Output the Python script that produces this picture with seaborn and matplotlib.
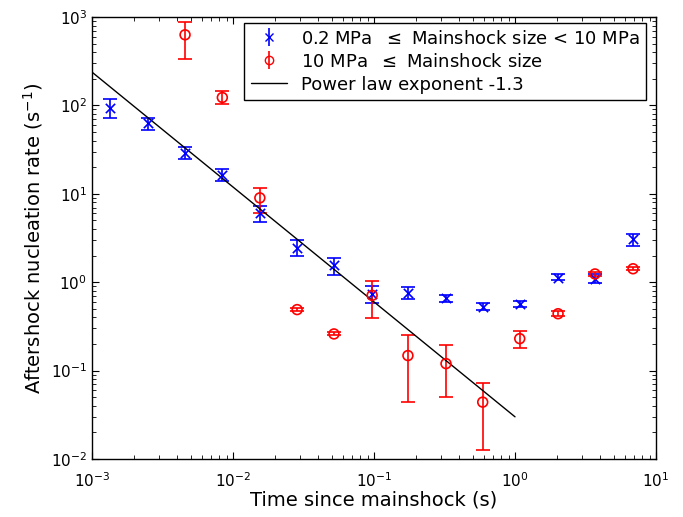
import numpy as np
import pandas as pd
import matplotlib
matplotlib.use("Agg")
import matplotlib.pyplot as plt
import seaborn as sns
from matplotlib.ticker import LogLocator, NullFormatter
from matplotlib.lines import Line2D

# ---- data ----
times = [1.34e-3, 2.49e-3, 4.57e-3, 8.4e-3, 1.55e-2, 2.85e-2, 5.2e-2, 9.7e-2,
         0.174, 0.324, 0.59, 1.08, 2.02, 3.69, 6.87]

blue_rate = [93, 63, 29, 16.3, 6.0, 2.45, 1.55, 0.74, 0.75, 0.66, 0.53, 0.56, 1.12, 1.09, 3.1]
blue_lo = [71.5, 53, 24.5, 14.0, 4.8, 2.0, 1.22, 0.58, 0.65, 0.60, 0.49, 0.52, 1.05, 0.97, 2.6]
blue_hi = [117, 73, 34, 18.9, 7.3, 3.0, 1.9, 0.91, 0.88, 0.72, 0.58, 0.61, 1.23, 1.23, 3.5]

red_times = times[2:]
red_rate = [630, 123, 9.0, 0.49, 0.26, 0.71, 0.148, 0.12, 0.044, 0.23, 0.44, 1.24, 1.42]
red_lo = [337, 104, 6.0, 0.47, 0.25, 0.39, 0.044, 0.050, 0.0125, 0.18, 0.41, 1.17, 1.36]
red_hi = [885, 147, 11.5, 0.51, 0.27, 1.02, 0.253, 0.193, 0.072, 0.28, 0.47, 1.32, 1.50]

power_x = [1e-3, 1.0]
power_amp = 0.030
power_exp = -1.3

labels = ["0.2 MPa  $\\leq$ Mainshock size < 10 MPa",
          "10 MPa  $\\leq$ Mainshock size",
          "Power law exponent -1.3"]

# ---- plot ----
sns.set_style("ticks")
plt.rcParams['font.family'] = ['DejaVu Sans']
plt.rcParams['text.color'] = 'black'
plt.rcParams['axes.labelcolor'] = 'black'

fig = plt.figure(figsize=(6.83, 5.17), dpi=100)
ax = fig.add_axes([0.1347, 0.1122, 0.8258, 0.8548])

blue_df = pd.DataFrame({"t": times, "r": blue_rate})
red_df = pd.DataFrame({"t": red_times, "r": red_rate})

br = np.array(blue_rate)
rr = np.array(red_rate)
ax.errorbar(times, blue_rate,
            yerr=[br - np.array(blue_lo), np.array(blue_hi) - br],
            fmt='none', ecolor='#0000ff', elinewidth=1.2, capsize=5, capthick=1.2)
ax.errorbar(red_times, red_rate,
            yerr=[rr - np.array(red_lo), np.array(red_hi) - rr],
            fmt='none', ecolor='#ff0000', elinewidth=1.2, capsize=5, capthick=1.2)

sns.scatterplot(data=blue_df, x="t", y="r", ax=ax, marker='x', color='#0000ff',
                s=45, linewidth=1.2, zorder=3)
sns.scatterplot(data=red_df, x="t", y="r", ax=ax, marker='o', facecolor='none',
                edgecolor='#ff0000', s=50, linewidth=1.2, zorder=3)

px = np.array(power_x)
line_df = pd.DataFrame({"t": px, "r": power_amp * px ** power_exp})
sns.lineplot(data=line_df, x="t", y="r", ax=ax, color='black', linewidth=1.0)

ax.set_xscale('log')
ax.set_yscale('log')
ax.set_xlim(1e-3, 10)
ax.set_ylim(1e-2, 1e3)

ax.set_xlabel("Time since mainshock (s)", fontsize=14, labelpad=0)
ax.set_ylabel("Aftershock nucleation rate (s$^{-1}$)", fontsize=14)

ax.xaxis.set_major_locator(LogLocator(base=10, numticks=10))
ax.yaxis.set_major_locator(LogLocator(base=10, numticks=10))
ax.xaxis.set_minor_locator(LogLocator(base=10, subs=np.arange(2, 10), numticks=20))
ax.yaxis.set_minor_locator(LogLocator(base=10, subs=np.arange(2, 10), numticks=20))
ax.xaxis.set_minor_formatter(NullFormatter())
ax.yaxis.set_minor_formatter(NullFormatter())
ax.tick_params(which='both', direction='in', top=True, right=True, labelsize=11, colors='black')
ax.tick_params(which='major', length=5, width=0.8)
ax.tick_params(which='minor', length=3, width=0.6)
ax.tick_params(axis='x', which='major', pad=9)
for sp in ax.spines.values():
    sp.set_visible(True)
    sp.set_color('black')
    sp.set_linewidth(1.0)

h1 = ax.errorbar([], [], yerr=[[], []], fmt='x', color='#0000ff', ecolor='#0000ff',
                 capsize=4, markersize=6, elinewidth=1.2, capthick=1.2)
h2 = ax.errorbar([], [], yerr=[[], []], fmt='o', color='#ff0000', ecolor='#ff0000',
                 mfc='none', capsize=4, markersize=6, elinewidth=1.2, capthick=1.2)
h3 = Line2D([], [], color='black', linewidth=1.0)
leg = ax.legend([h1, h2, h3], labels, loc='upper right', fontsize=13,
                frameon=True, fancybox=False, framealpha=1, edgecolor='black',
                bbox_to_anchor=(0.983, 0.986),
                borderaxespad=0.0, handlelength=2.0, labelspacing=0.28,
                borderpad=0.35, handletextpad=0.8)
leg.get_frame().set_linewidth(1.0)
for t in leg.get_texts():
    t.set_color('black')

fig.savefig("out.png", dpi=100, facecolor='white')
